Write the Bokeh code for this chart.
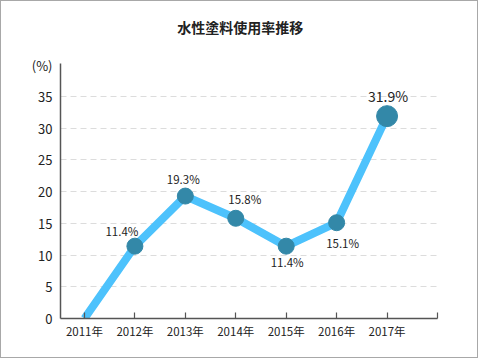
from bokeh.plotting import figure
from bokeh.models import ColumnDataSource, FixedTicker, Range1d, LinearAxis
from bokeh.embed import file_html
from bokeh.resources import INLINE
from bokeh.core.properties import value

# ---- data ----
years = ["2011年", "2012年", "2013年", "2014年", "2015年", "2016年", "2017年"]
rates = [0, 11.4, 19.3, 15.8, 11.4, 15.1, 31.9]
rate_labels = ["", "11.4%", "19.3%", "15.8%", "11.4%", "15.1%", "31.9%"]
yticks = [0, 5, 10, 15, 20, 25, 30, 35]
title_text = "水性塗料使用率推移"
unit_text = "(%)"

# ---- styles ----
FONT = "Noto Sans CJK JP"
LINE_COLOR = "#4dc2fc"
MARK_COLOR = "#3388a8"
W, H = 478, 358
BL, BR, BT, BB = 59, 42, 62, 41
X0, X1 = -0.475, 7.0
Y0, Y1 = 0, 40.2
UNIT_POS = 39.9   # where the unit label sits on the y axis
TITLE_POS = 3.09  # where the title sits along the top axis

xs = list(range(len(years)))

p = figure(width=W, height=H, output_backend="svg", toolbar_location=None,
           x_range=Range1d(X0, X1), y_range=Range1d(Y0, Y1),
           min_border_left=BL, min_border_right=BR,
           min_border_top=BT, min_border_bottom=BB)
p.styles = {"border": "1px solid #a8a8a8"}
p.outline_line_color = None
p.background_fill_color = "white"
p.border_fill_color = "white"

# title carried by an invisible top axis
top = LinearAxis(ticker=FixedTicker(ticks=[TITLE_POS]),
                 major_label_overrides={TITLE_POS: title_text},
                 axis_line_color=None, major_tick_line_color=None,
                 minor_tick_line_color=None,
                 major_label_standoff=21,
                 major_label_text_font=FONT,
                 major_label_text_font_size="14px",
                 major_label_text_font_style="bold",
                 major_label_text_color="#222222")
p.add_layout(top, "above")

# grid
p.xgrid.visible = False
p.ygrid.ticker = FixedTicker(ticks=yticks[1:])
p.ygrid.grid_line_color = "#dcdcdc"
p.ygrid.grid_line_dash = "6 4"
p.ygrid.grid_line_width = 1

# x axis
xa = p.below[0]
xa.ticker = FixedTicker(ticks=list(range(len(years) + 1)))
ov = {i: y for i, y in enumerate(years)}
ov[len(years)] = ""
xa.major_label_overrides = ov
xa.major_tick_in = 6
xa.major_tick_out = 0
xa.minor_tick_line_color = None
xa.axis_line_color = "#555555"
xa.axis_line_width = 1.5
xa.major_tick_line_color = "#555555"
xa.major_tick_line_width = 1.2
xa.major_label_text_font = FONT
xa.major_label_text_font_size = "11.5px"
xa.major_label_text_color = "#222222"
xa.major_label_standoff = 4

# y axis (unit label rides on an extra tick at the top)
ya = p.left[0]
ya.ticker = FixedTicker(ticks=yticks + [UNIT_POS])
ya.major_label_overrides = {UNIT_POS: unit_text}
ya.major_tick_in = 0
ya.major_tick_out = 0
ya.minor_tick_line_color = None
ya.axis_line_color = "#555555"
ya.axis_line_width = 1.5
ya.major_label_text_font = FONT
ya.major_label_text_font_size = "13px"
ya.major_label_text_color = "#222222"
ya.major_label_standoff = 8

# line
src = ColumnDataSource(dict(x=xs, y=rates, label=rate_labels))
p.line(x="x", y="y", source=src, line_width=8, line_color=LINE_COLOR,
       line_join="round")

# markers (skip first point)
msizes = [16] * (len(years) - 2) + [21]
msrc = ColumnDataSource(dict(x=xs[1:], y=rates[1:], s=msizes))
p.scatter(x="x", y="y", size="s", source=msrc, fill_color=MARK_COLOR,
          line_color=MARK_COLOR)

# value labels
xoff = [0, -13, -2, 9, 1, 6]
yoff = [0, -15, -17, -19, 16, 20]
lsrc = ColumnDataSource(dict(x=xs[:-1], y=rates[:-1], t=rate_labels[:-1],
                             xo=xoff, yo=yoff))
p.text(x="x", y="y", text="t", source=lsrc, x_offset="xo", y_offset="yo",
       text_font=value(FONT), text_font_size="11.5px", text_color="#222222",
       text_align="center", text_baseline="middle")
p.text(x=[xs[-1]], y=[rates[-1]], text=[rate_labels[-1]], x_offset=1, y_offset=-20,
       text_font=value(FONT), text_font_size="14px", text_color="#222222",
       text_align="center", text_baseline="middle")

open("out.html", "w").write(file_html(p, INLINE))
